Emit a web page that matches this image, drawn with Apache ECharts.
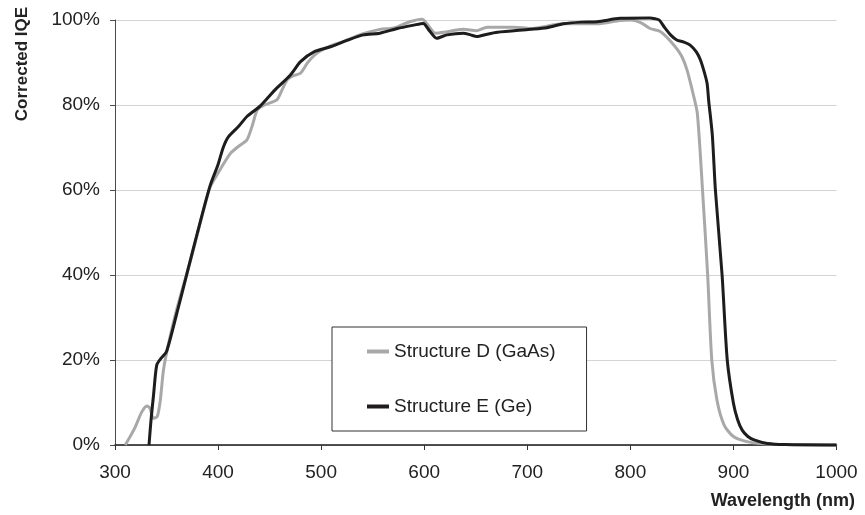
<!DOCTYPE html>
<html>
<head>
<meta charset="utf-8">
<script src="https://cdn.jsdelivr.net/npm/echarts@6/dist/echarts.min.js"></script>
<style>
  html, body { margin: 0; padding: 0; background: #ffffff; }
  #chart { width: 865px; height: 515px; }
</style>
</head>
<body>
<div id="chart"></div>
<script>
// Wavelength (nm) and corrected internal quantum efficiency (%) per structure
const gaasWavelength = [310, 319, 326, 331, 334, 337, 341, 344, 347, 352, 360, 375, 392, 400, 412, 420, 428, 433, 438, 445, 457, 462, 467, 472, 480, 487, 496, 508, 520, 540, 557, 567, 574, 586, 598, 603, 611, 619, 638, 651, 661, 687, 703, 735, 768, 790, 800, 810, 819, 829, 839, 849, 855, 861, 865, 870, 875, 879, 884, 891, 900, 913, 929, 950, 1000];
const gaasIQE        = [0, 3.9, 7.8, 9.2, 8.6, 6.3, 6.7, 10.6, 17.6, 23.9, 32, 45, 60.5, 64, 68.6, 70.3, 71.8, 75, 78.8, 80, 81.2, 83.5, 85.9, 86.8, 87.5, 90, 92.2, 93.8, 94.8, 96.7, 97.8, 98, 98.4, 99.6, 100.2, 99, 96.9, 97.1, 97.8, 97.5, 98.3, 98.3, 98, 99.1, 99.1, 99.9, 100, 99.4, 98, 97.3, 95, 91.8, 88.2, 82.5, 78, 60, 40, 20, 10.6, 4.7, 2, 0.8, 0.3, 0.1, 0];

const geWavelength = [333, 335, 337.5, 340.5, 345, 350, 360, 370, 380, 392, 400, 405, 410, 420, 428, 441, 455, 470, 480, 493, 509, 525, 541, 557, 574, 590, 599, 605, 612, 622, 638, 645, 651, 660, 671, 703, 719, 735, 752, 768, 790, 819, 824, 828, 833, 839, 845, 852, 858, 864, 868, 872, 874.5, 876, 879.5, 882.5, 889, 894, 900, 904, 908.5, 914, 920, 933, 950, 1000];
const geIQE        = [0, 6, 12, 18.8, 20.5, 22, 31, 40.5, 50, 60.8, 66, 70, 72.5, 75, 77.3, 79.8, 83.5, 87, 90.2, 92.5, 93.7, 95.2, 96.5, 96.9, 98, 98.8, 99.2, 97.5, 95.7, 96.5, 96.9, 96.5, 96.1, 96.6, 97.1, 97.8, 98.2, 99.1, 99.5, 99.6, 100.4, 100.5, 100.3, 100, 98.3, 96.5, 95.3, 94.8, 94.1, 92.5, 90.6, 87.5, 85, 81, 73, 60, 40, 20, 9.8, 6, 3.5, 2, 1.2, 0.35, 0.1, 0];

const seriesNames = ['Structure D (GaAs)', 'Structure E (Ge)'];
const xTicks = { min: 300, max: 1000, step: 100 };
const yTicks = { min: 0, max: 100, step: 20 };

const pairs = (xs, ys) => xs.map((x, i) => [x, ys[i]]);

const FONT = '"Liberation Sans", Arial, Helvetica, sans-serif';
const chart = echarts.init(document.getElementById('chart'), null, { renderer: 'canvas' });

chart.setOption({
  animation: false,
  backgroundColor: '#ffffff',
  grid: { left: 115, right: 28.5, top: 20, bottom: 70, containLabel: false },
  xAxis: {
    type: 'value',
    min: xTicks.min, max: xTicks.max, interval: xTicks.step,
    axisLine: { show: true, onZero: false, lineStyle: { color: '#1a1a1a', width: 1.5 } },
    axisTick: { show: true, inside: false, length: 5, lineStyle: { color: '#333333' } },
    axisLabel: { color: '#222222', fontFamily: FONT, fontSize: 19, margin: 18, formatter: v => String(v) },
    splitLine: { show: false }
  },
  yAxis: {
    type: 'value',
    min: yTicks.min, max: yTicks.max, interval: yTicks.step,
    axisLine: { show: true, lineStyle: { color: '#4a4a4a', width: 1 } },
    axisTick: { show: true, inside: false, length: 5, lineStyle: { color: '#4a4a4a' } },
    axisLabel: { color: '#222222', fontFamily: FONT, fontSize: 19, margin: 15, formatter: '{value}%' },
    splitLine: { show: true, lineStyle: { color: '#d4d4d4', width: 1.2 } }
  },
  legend: {
    orient: 'vertical',
    left: 332, top: 327,
    padding: [15, 31, 15, 35],
    itemGap: 36,
    itemWidth: 22, itemHeight: 4,
    icon: 'rect',
    borderColor: '#333333', borderWidth: 1,
    backgroundColor: '#ffffff',
    textStyle: { color: '#222222', fontFamily: FONT, fontSize: 19 },
    data: seriesNames
  },
  graphic: [
    {
      type: 'text',
      x: 22, y: 64, rotation: Math.PI / 2,
      style: {
        text: 'Corrected IQE', fill: '#222222',
        font: 'bold 17px ' + FONT, align: 'center', verticalAlign: 'middle'
      }
    },
    {
      type: 'text',
      x: 855, y: 501,
      style: {
        text: 'Wavelength (nm)', fill: '#222222',
        font: 'bold 18px ' + FONT, align: 'right', verticalAlign: 'middle'
      }
    }
  ],
  series: [
    {
      name: seriesNames[0], type: 'line', showSymbol: false, symbol: 'none',
      smooth: 0.25, z: 2, clip: false,
      lineStyle: { color: '#a8a8a8', width: 3 },
      itemStyle: { color: '#a8a8a8' },
      data: pairs(gaasWavelength, gaasIQE)
    },
    {
      name: seriesNames[1], type: 'line', showSymbol: false, symbol: 'none',
      smooth: 0.25, z: 3, clip: false,
      lineStyle: { color: '#1e1c1d', width: 3 },
      itemStyle: { color: '#1e1c1d' },
      data: pairs(geWavelength, geIQE)
    }
  ]
});
</script>
</body>
</html>
